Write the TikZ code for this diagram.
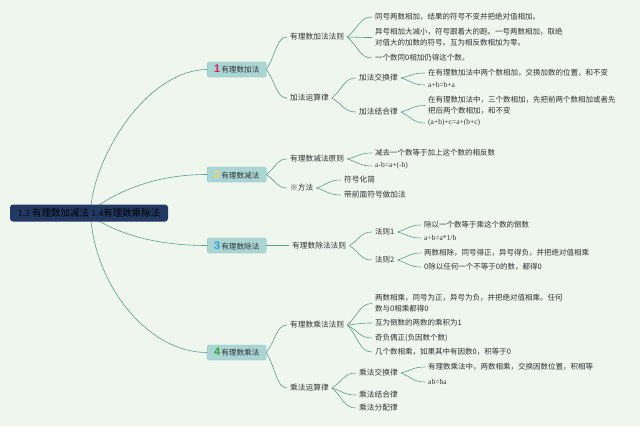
\documentclass[tikz,border=0pt]{standalone}
\usepackage{fontspec}
\setmainfont{Liberation Serif}
\newfontfamily\cjk{Noto Sans CJK SC}
\newfontfamily\numfont{Liberation Sans}
\usetikzlibrary{calc}
\definecolor{bgc}{HTML}{EEF6EE}
\definecolor{linec}{HTML}{5F9C8C}
\definecolor{txt}{HTML}{333333}
\definecolor{boxfill}{HTML}{A9D5D3}
\definecolor{boxline}{HTML}{8CC0BD}
\definecolor{rootfill}{HTML}{223A63}
\definecolor{numa}{HTML}{D81E50}
\definecolor{numb}{HTML}{F2D36B}
\definecolor{numc}{HTML}{2D9DE0}
\definecolor{numd}{HTML}{34A33A}
\newcommand\fork[2]{\draw[conn] (#1.east) .. controls ($(#1.east)!0.45!(#2.west)$) and ($(#2.west)!0.5!(#1.east |- #2.west)$) .. (#2.west);}
\newcommand\bnum[2]{{\numfont\bfseries\fontsize{11}{11}\selectfont\color{#1}#2}\,}
\begin{document}
\begin{tikzpicture}[x=1pt,y=-1pt,
  conn/.style={draw=linec, line width=0.6pt},
  lvtwo/.style={anchor=west, inner xsep=3pt, inner ysep=1pt, font=\cjk\fontsize{7.7}{11}\selectfont, text=txt},
  lvthree/.style={anchor=west, inner xsep=3pt, inner ysep=1pt, font=\cjk\fontsize{7.5}{11}\selectfont, text=txt, align=left},
  formula/.style={lvthree, font=\fontsize{7.5}{11}\selectfont},
  topicbox/.style={anchor=west, draw=boxline, line width=0.4pt, fill=boxfill, rounded corners=1.5pt, minimum width=59pt, minimum height=15pt, inner sep=0pt, font=\cjk\fontsize{7.6}{9}\selectfont, text=txt},
  rootbox/.style={fill=rootfill, rounded corners=3pt, minimum width=158pt, minimum height=17pt, inner sep=0pt, text=black, font=\fontsize{9.5}{11}\selectfont}
]
\fill[bgc] (0,0) rectangle (640,426);
\useasboundingbox (0,0) rectangle (640,426);

% topic boxes
\node[topicbox] (t1) at (207,69.5) {\bnum{numa}{1}有理数加法};
\node[topicbox] (t2) at (207,174.5) {\bnum{numb}{2}有理数减法};
\node[topicbox] (t3) at (207,245.5) {\bnum{numc}{3}有理数除法};
\node[topicbox] (t4) at (207,352.5) {\bnum{numd}{4}有理数乘法};

% root branches
\coordinate (r1) at (91,205);
\coordinate (r2) at (99,205);
\coordinate (r3) at (99,221);
\coordinate (r4) at (91,221);
\draw[conn] (r1) .. controls (98,148) and (150,70) .. (t1.west);
\draw[conn] (r2) .. controls (125,188) and (160,174.5) .. (t2.west);
\draw[conn] (r3) .. controls (125,236) and (160,245.5) .. (t3.west);
\draw[conn] (r4) .. controls (98,290) and (150,352.5) .. (t4.west);

\node[rootbox] (root) at (89,213) {1.3 {\cjk 有理数加减法} 1.4{\cjk 有理数乘除法}};

% level 2
\node[lvtwo] (a1) at (287,37) {有理数加法法则};
\node[lvtwo] (a2) at (287,98) {加法运算律};
\node[lvtwo] (b1) at (287,159) {有理数减法原则};
\node[lvtwo] (b2) at (287,188) {※方法};
\node[lvtwo] (c1) at (289,245.5) {有理数除法法则};
\node[lvtwo] (d1) at (287,325) {有理数乘法法则};
\node[lvtwo] (d2) at (287,388) {乘法运算律};

\fork{t1}{a1}\fork{t1}{a2}
\fork{t2}{b1}\fork{t2}{b2}
\draw[conn] (t3.east) -- (c1.west);
\fork{t4}{d1}\fork{t4}{d2}

% level 3 under a1
\node[lvthree] (a11) at (372,17) {同号两数相加，结果的符号不变并把绝对值相加。};
\node[lvthree] (a12) at (372,37.5) {异号相加大减小，符号跟着大的跑。一号两数相加，取绝\\对值大的加数的符号。互为相反数相加为零。};
\node[lvthree] (a13) at (372,58) {一个数同0相加仍得这个数。};
\fork{a1}{a11}\fork{a1}{a12}\fork{a1}{a13}

% under a2
\node[lvtwo] (a21) at (356,78) {加法交换律};
\node[lvtwo] (a22) at (356,112) {加法结合律};
\fork{a2}{a21}\fork{a2}{a22}
\node[lvthree] (a211) at (425,73) {在有理数加法中两个数相加，交换加数的位置，和不变};
\node[formula] (a212) at (425,85) {a+b=b+a};
\node[lvthree] (a221) at (425,105.5) {在有理数加法中，三个数相加，先把前两个数相加或者先\\把后两个数相加，和不变};
\node[formula] (a222) at (425,123) {(a+b)+c=a+(b+c)};
\fork{a21}{a211}\fork{a21}{a212}
\fork{a22}{a221}\fork{a22}{a222}

% under b1, b2
\node[lvthree] (b11) at (372,153) {减去一个数等于加上这个数的相反数};
\node[formula] (b12) at (372,166) {a-b=a+(-b)};
\fork{b1}{b11}\fork{b1}{b12}
\node[lvtwo] (b21) at (341,180) {符号化简};
\node[lvtwo] (b22) at (341,195) {带前面符号做加法};
\fork{b2}{b21}\fork{b2}{b22}

% under c1
\node[lvthree] (c11) at (372,232) {法则1};
\node[lvthree] (c12) at (372,260) {法则2};
\fork{c1}{c11}\fork{c1}{c12}
\node[lvthree] (c111) at (421,225) {除以一个数等于乘这个数的倒数};
\node[formula] (c112) at (421,238) {a÷b=a*1/b};
\node[lvthree] (c121) at (421,253) {两数相除，同号得正，异号得负，并把绝对值相乘};
\node[lvthree] (c122) at (421,267) {0除以任何一个不等于0的数，都得0};
\fork{c11}{c111}\fork{c11}{c112}
\fork{c12}{c121}\fork{c12}{c122}

% under d1
\node[lvthree] (d11) at (372,303.5) {两数相乘，同号为正，异号为负，并把绝对值相乘。任何\\数与0相乘都得0};
\node[lvthree] (d12) at (372,323) {互为倒数的两数的乘积为1};
\node[lvthree] (d13) at (372,338) {奇负偶正(负因数个数)};
\node[lvthree] (d14) at (372,352) {几个数相乘，如果其中有因数0，积等于0};
\fork{d1}{d11}\fork{d1}{d12}\fork{d1}{d13}\fork{d1}{d14}

% under d2
\node[lvtwo] (d21) at (356,373) {乘法交换律};
\node[lvtwo] (d22) at (356,395) {乘法结合律};
\node[lvtwo] (d23) at (356,408) {乘法分配律};
\fork{d2}{d21}\fork{d2}{d22}\fork{d2}{d23}
\node[lvthree] (d211) at (425,367) {有理数乘法中，两数相乘，交换因数位置，积相等};
\node[formula] (d212) at (425,382) {ab=ba};
\fork{d21}{d211}\fork{d21}{d212}
\end{tikzpicture}
\end{document}
